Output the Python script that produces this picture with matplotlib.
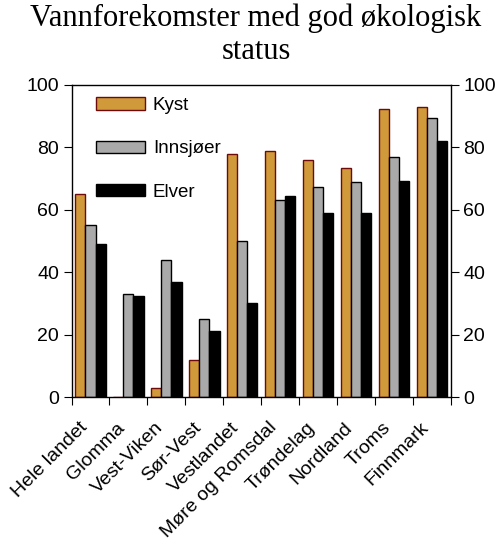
import matplotlib
matplotlib.use("Agg")
import matplotlib.pyplot as plt
import matplotlib.transforms as mtransforms
import numpy as np

categories = ["Hele landet", "Glomma", "Vest-Viken", "Sør-Vest", "Vestlandet",
              "Møre og Romsdal", "Trøndelag", "Nordland", "Troms", "Finnmark"]
kyst = [65, 0, 3, 12, 78, 79, 76, 73.3, 92.2, 92.8]
innsjoer = [55, 33, 44, 25, 50, 63, 67.3, 69, 76.8, 89.3]
elver = [49, 32.3, 37, 21, 30, 64.4, 59, 59, 69.2, 82.2]
series_names = ["Kyst", "Innsjøer", "Elver"]
title = "Vannforekomster med god økologisk\nstatus"

plt.rcParams['font.family'] = ['Liberation Sans', 'DejaVu Sans']

fig = plt.figure(figsize=(5.0, 5.42), dpi=100)
ax = fig.add_axes([0.143, 0.2675, 0.759, 0.5757])

n = len(categories)
x = np.arange(n) + 0.5
w = 0.267
ax.bar(x - w, kyst, w, color="#D09A3A", edgecolor="#6E0A0A", linewidth=1.0, label=series_names[0])
ax.bar(x, innsjoer, w, color="#AAAAAA", edgecolor="black", linewidth=1.0, label=series_names[1])
ax.bar(x + w, elver, w, color="black", edgecolor="black", linewidth=1.0, label=series_names[2])

ax.set_xlim(0, n)
ax.set_ylim(0, 100)
ax.set_yticks([0, 20, 40, 60, 80, 100])
ax.tick_params(axis='y', which='both', direction='out', length=6, labelsize=14,
               left=True, right=True, labelleft=True, labelright=True, pad=3)
ax.set_xticks(np.arange(n + 1))
ax.set_xticklabels([])
ax.tick_params(axis='x', which='major', direction='out', length=6)

base = mtransforms.blended_transform_factory(ax.transData, ax.transAxes)
offset = mtransforms.ScaledTranslation(-12 / 100, -22 / 100, fig.dpi_scale_trans)
for xi, name in zip(x, categories):
    ax.text(xi, 0, name, transform=base + offset, rotation=45, ha='right', va='top',
            rotation_mode='anchor', fontsize=14, clip_on=False)

for s in ax.spines.values():
    s.set_linewidth(1.0)

leg = ax.legend(loc='upper left', bbox_to_anchor=(0.034, 0.997), frameon=False,
                fontsize=13.5, handlelength=2.65, handleheight=0.65,
                labelspacing=1.4, handletextpad=0.4, borderaxespad=0.0,
                borderpad=0.6)

fig.suptitle(title, fontsize=22, family='Liberation Serif', x=0.512, y=0.993,
             linespacing=1.15)

fig.savefig("out.png", dpi=100)
